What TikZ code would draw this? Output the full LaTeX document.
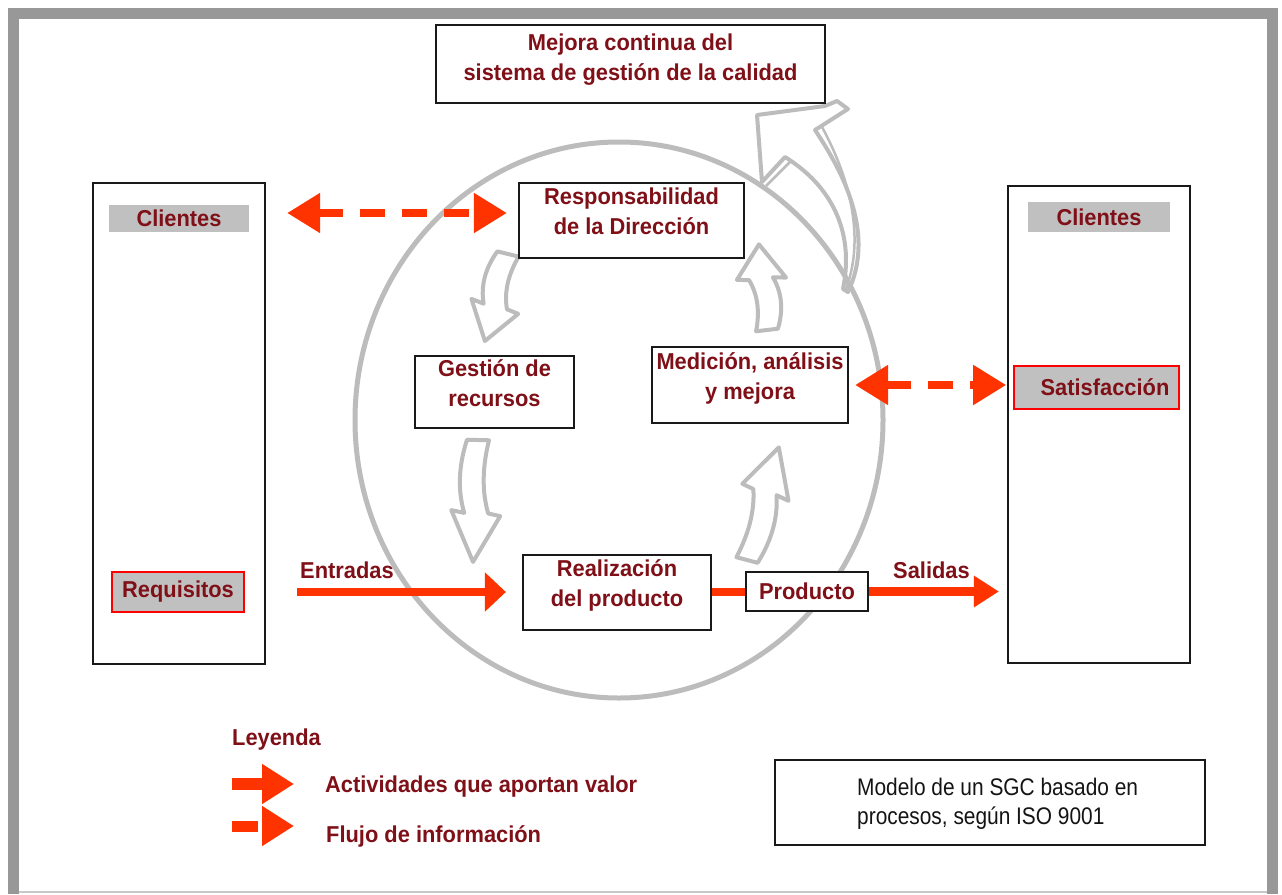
\documentclass[tikz,border=0pt]{standalone}
\usepackage{fontspec}
\setmainfont[FakeStretch=0.95]{Liberation Sans}
\newfontfamily\modelfont[FakeStretch=0.87]{Liberation Sans}
\usetikzlibrary{arrows.meta,calc}
\definecolor{txtred}{RGB}{128,16,24}
\definecolor{arrred}{RGB}{255,51,0}
\definecolor{lblgray}{RGB}{192,192,192}
\definecolor{framegray}{RGB}{152,152,152}
\definecolor{framelight}{RGB}{200,200,200}
\definecolor{circgray}{RGB}{188,188,188}
\newcommand{\uptxt}[2][7pt]{\raisebox{#1}[\height][\depth]{\begin{tabular}{@{}c@{}}#2\end{tabular}}}
\tikzset{
  redtext/.style={font=\bfseries\fontsize{23}{30}\selectfont, text=txtred, inner sep=0pt},
  box/.style={draw=black!90, line width=2.2pt, fill=white, inner sep=0pt, redtext},
  lbl/.style={fill=lblgray, inner sep=0pt, redtext},
  redlbl/.style={lbl, draw=red, line width=1.6pt},
  cycline/.style={draw=circgray, line width=4pt, fill=white, line join=round},
  cycthin/.style={draw=circgray, line width=2.5pt, line join=round},
  redarrow/.style={draw=arrred, line width=8pt, -{Triangle[length=21pt,width=38pt]}, arrred},
  salarrow/.style={draw=arrred, line width=9pt, -{Triangle[length=25pt,width=30pt]}, arrred},
  dasharrow/.style={draw=arrred, line width=8pt, dash pattern=on 25pt off 17pt, arrred,
     {Triangle[length=33pt,width=38pt]}-{Triangle[length=33pt,width=38pt]}},
  legarrow/.style={draw=arrred, line width=12pt, arrred, -{Triangle[length=32pt,width=38pt]}},
  cyc/.pic={
    \draw[cycline] (-11,0) .. controls (-19,22) and (-19,42) .. (-12,60) -- (-25,58) -- (-2,100)
       -- (24,62) -- (12,60) .. controls (5,42) and (5,22) .. (11,0) -- cycle;
  }
}
\begin{document}
\begin{tikzpicture}[x=1pt,y=-1pt]
\useasboundingbox (0,0) rectangle (1282,894);
\fill[white] (0,0) rectangle (1282,894);
% frame
\fill[framegray] (8,8) rectangle (1278,19);
\fill[framegray] (8,8) rectangle (19,894);
\fill[framegray] (1267,8) rectangle (1278,894);
\draw[framelight, line width=2pt] (19,892) -- (1267,892);

% big improvement arrow
\draw[cycline] (757,115) -- (825,106) -- (837,101) -- (848,109) -- (815,130)
   .. controls (845,175) and (875,235) .. (848,292) -- (843,289)
   .. controls (855,230) and (830,185) .. (785,157) -- (762,182) -- cycle;
\draw[cycthin] (822,127) .. controls (848,175) and (866,235) .. (846,289);
\draw[cycthin] (766,186) -- (790,162);

% process circle
\draw[circgray, line width=5pt] (619,420) ellipse [x radius=264pt, y radius=278pt];

% cycle arrows
\pic[rotate=-13.6, yscale=0.9] at (508,254) {cyc};
\pic[rotate=-1.4, yscale=1.22] at (478,440) {cyc};
\pic[rotate=165.2, yscale=1.17] at (747,560) {cyc};
\pic[rotate=-173.3, yscale=0.86] at (767,330) {cyc};

% boxes
\node[box, minimum width=389pt, minimum height=78pt] (mejora) at (630.5,64)
  {\uptxt[5pt]{Mejora continua del\\sistema de gestión de la calidad}};
\node[box, minimum width=225pt, minimum height=75pt] (resp) at (631.5,220.5)
  {\uptxt{Responsabilidad\\de la Dirección}};
\node[box, minimum width=159pt, minimum height=72pt] (gest) at (494.5,392)
  {\uptxt{Gestión de\\recursos}};
\node[box, minimum width=196pt, minimum height=76pt] (med) at (750,385)
  {\uptxt{Medición, análisis\\y mejora}};
\node[box, minimum width=188pt, minimum height=75pt] (real) at (617,592.5)
  {\uptxt{Realización\\del producto}};
\node[box, minimum width=122pt, minimum height=39pt] (prod) at (807,591.5) {Producto};

\node[box, minimum width=172pt, minimum height=481pt] (clL) at (179,423.5) {};
\node[box, minimum width=182pt, minimum height=477pt] (clR) at (1099,424.5) {};
\node[lbl, minimum width=140pt, minimum height=27pt] (cliL) at (179,218.5) {Clientes};
\node[lbl, minimum width=142pt, minimum height=30pt] (cliR) at (1099,217) {Clientes};
\node[redlbl, minimum width=132pt, minimum height=40pt] (req) at (178,592) {Requisitos};
\node[redlbl, minimum width=165pt, minimum height=43pt] (sat) at (1096.5,387.5) {\hspace*{17pt}Satisfacción};

% red connectors
\coordinate (entA) at (297,592);
\draw[redarrow, shorten >=16pt] (entA) -- (entA -| real.west);
\draw[arrred, line width=8pt] (real.east |- prod.west) -- (prod.west);
\draw[salarrow, shorten >=8pt] (prod.east) -- (prod.east -| clR.west);
\draw[dasharrow, shorten <=21pt, shorten >=11pt] ($(resp.west -| clL.east)+(0,-7.5)$) -- ($(resp.west)+(0,-7.5)$);
\draw[dasharrow, shorten <=6pt, shorten >=7pt] (med.east) -- (med.east -| sat.west);

% labels
\node[redtext, anchor=base west] (entr) at (300,578) {Entradas};
\node[redtext, anchor=base west] (sal) at (893,578) {Salidas};

% legend
\node[redtext, anchor=base west] (ley) at (232,745) {Leyenda};
\coordinate (lg1) at (232,784);
\coordinate (lg1e) at (294,784);
\draw[legarrow] (lg1) -- (lg1e);
\coordinate (lg2) at (232,826);
\coordinate (lg2e) at (294,826);
\draw[legarrow, line width=11pt, dash pattern=on 26pt off 20pt] (lg2) -- (lg2e);
\node[redtext, anchor=base west] (leg1) at (325,792) {Actividades que aportan valor};
\node[redtext, anchor=base west] (leg2) at (326,842) {Flujo de información};

% model box
\node[box, minimum width=430pt, minimum height=85pt] (model) at (990,802.5) {};
\node[anchor=west, inner sep=0pt, align=left, text=black!92,
  font=\modelfont\fontsize{24}{29}\selectfont] (modeltxt) at (857,804)
  {Modelo de un SGC basado en\\procesos, según ISO 9001};
\end{tikzpicture}
\end{document}
